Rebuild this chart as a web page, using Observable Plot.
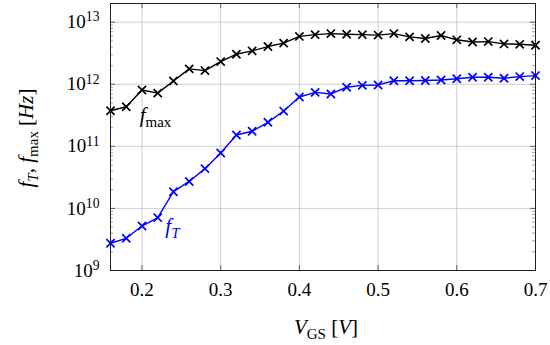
<!DOCTYPE html>
<html><head><meta charset="utf-8">
<script src="https://cdn.jsdelivr.net/npm/d3@7"></script>
<script src="https://cdn.jsdelivr.net/npm/@observablehq/plot@0.6"></script>
<style>body{margin:0;background:#fff}</style>
</head><body><div id="chart"></div>
<script>
// Data
const vgs  = [0.16,0.18,0.20,0.22,0.24,0.26,0.28,0.30,0.32,0.34,0.36,0.38,0.40,0.42,0.44,0.46,0.48,0.50,0.52,0.54,0.56,0.58,0.60,0.62,0.64,0.66,0.68,0.70];
const fmax = [3.75e11,4.35e11,8.1e11,7.2e11,1.13e12,1.77e12,1.66e12,2.32e12,3.05e12,3.45e12,4.05e12,4.6e12,5.9e12,6.3e12,6.55e12,6.4e12,6.3e12,6.2e12,6.55e12,5.8e12,5.45e12,6.1e12,5.2e12,4.8e12,4.87e12,4.47e12,4.4e12,4.25e12];
const fT   = [2.75e9,3.3e9,5.2e9,7.1e9,1.86e10,2.72e10,4.37e10,7.8e10,1.52e11,1.75e11,2.44e11,3.7e11,6.24e11,7.4e11,6.98e11,8.95e11,9.6e11,9.75e11,1.14e12,1.14e12,1.15e12,1.17e12,1.23e12,1.3e12,1.3e12,1.25e12,1.33e12,1.38e12];
const xTicks = [0.2,0.3,0.4,0.5,0.6,0.7];
const yDecades = [1e9,1e10,1e11,1e12,1e13];
const minorMult = [2,3,4,5,6,7,8,9];
const yDomain = [1e9, 2e13];
const xDomain = [0.16, 0.70];
// in-plot series labels (data coords)
const labelV = [0.2178, 0.2393];
const labelF = [2.38e11, 4.0e9];

const rows = vgs.map((v,i)=>({v, fmax: fmax[i], fT: fT[i]}));
const yMinor = yDecades.slice(0,4).flatMap(d => minorMult.map(m => m*d));

const W=550,H=345,mL=110,mR=15,mT=3,mB=75;
const innerW=W-mL-mR, innerH=H-mT-mB;
const grid="#c0c0c0";
const FONT = "Liberation Serif, Times New Roman, serif";

const plot = Plot.plot({
  width:W, height:H, marginLeft:mL, marginRight:mR, marginTop:mT, marginBottom:mB,
  x:{domain:xDomain},
  y:{type:"log", domain:yDomain},
  marks:[
    Plot.gridX(xTicks,{stroke:grid, strokeOpacity:1, strokeWidth:0.8}),
    Plot.gridY(yDecades,{stroke:grid, strokeOpacity:1, strokeWidth:0.8}),
    // inward ticks
    Plot.tickX(xTicks,{x:d=>d, insetTop:innerH-5, stroke:"#444", strokeWidth:0.8}),
    Plot.tickX(xTicks,{x:d=>d, insetBottom:innerH-5, stroke:"#444", strokeWidth:0.8}),
    Plot.tickY(yDecades,{y:d=>d, insetRight:innerW-5, stroke:"#444", strokeWidth:0.8}),
    Plot.tickY(yDecades,{y:d=>d, insetLeft:innerW-5, stroke:"#444", strokeWidth:0.8}),
    Plot.tickY(yMinor,{y:d=>d, insetRight:innerW-3, stroke:"#666", strokeWidth:0.6}),
    Plot.tickY(yMinor,{y:d=>d, insetLeft:innerW-3, stroke:"#666", strokeWidth:0.6}),
    Plot.axisX(xTicks,{tickSize:0, tickPadding:12, fontSize:19, label:null, tickFormat:d=>d.toFixed(1)}),
    Plot.axisY(yDecades,{tickSize:0, tickPadding:11, fontSize:19, label:null, tickFormat:d=>String(Math.round(Math.log10(d)))}),
    Plot.line(rows,{x:"v", y:"fmax", stroke:"black", strokeWidth:1.4}),
    Plot.dot(rows,{x:"v", y:"fmax", symbol:"times", r:3.8, stroke:"black", strokeWidth:1.7}),
    Plot.line(rows,{x:"v", y:"fT", stroke:"#0000ff", strokeWidth:1.4}),
    Plot.dot(rows,{x:"v", y:"fT", symbol:"times", r:3.8, stroke:"#0000ff", strokeWidth:1.7}),
    Plot.frame({stroke:"#222", strokeWidth:1})
  ]
});

const svg = d3.select(plot);
// superscript exponents on y tick labels
svg.selectAll('g[aria-label="y-axis tick label"] text').each(function(){
  const e = this.textContent;
  const t = d3.select(this);
  t.text("10");
  t.append("tspan").attr("dy","-0.5em").attr("font-size","0.72em").text(e);
});

const sx = plot.scale("x"), sy = plot.scale("y");
function addLabel(x,y,color,parts,attrs={}){
  const t = svg.append("text").attr("x",x).attr("y",y).attr("fill",color).attr("font-size",21);
  for (const k in attrs) t.attr(k, attrs[k]);
  let dy=0;
  for (const p of parts){
    const s = t.append("tspan").text(p.t);
    const target = p.sub ? 5 : 0;
    if (target!==dy){ s.attr("dy", target-dy); dy=target; }
    if (p.i) s.attr("font-style","italic");
    if (p.sub) s.attr("font-size",15);
  }
  return t;
}
addLabel(sx.apply(labelV[0]), sy.apply(labelF[0]), "black", [{t:"f",i:1},{t:"max",sub:1}]);
addLabel(sx.apply(labelV[1]), sy.apply(labelF[1]), "#0000ff", [{t:"f",i:1},{t:"T",i:1,sub:1}]);
// axis titles
addLabel(326, 334, "black", [{t:"V",i:1},{t:"GS",sub:1},{t:" ["},{t:"V",i:1},{t:"]"}], {"text-anchor":"middle"});
addLabel(0, 0, "black", [{t:"f",i:1},{t:"T",i:1,sub:1},{t:", "},{t:"f",i:1},{t:"max",sub:1},{t:" ["},{t:"Hz",i:1},{t:"]"}],
  {"text-anchor":"middle","transform":"translate(33,138) rotate(-90)"});

svg.attr("font-family", FONT);
svg.selectAll("g, text").attr("font-family", FONT);

document.getElementById("chart").appendChild(plot);
</script></body></html>
